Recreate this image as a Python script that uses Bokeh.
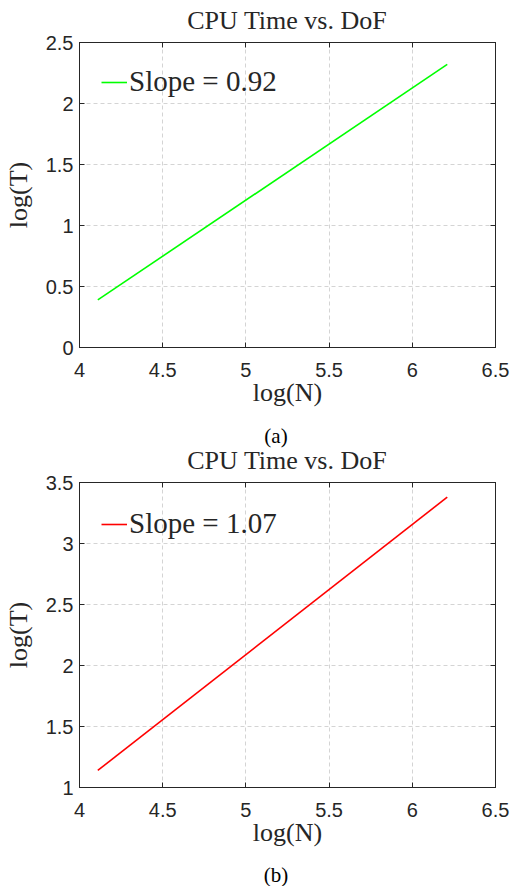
from bokeh.plotting import figure
from bokeh.layouts import column
from bokeh.models import LinearAxis, FixedTicker, Range1d, Legend, LegendItem, Grid, Div
from bokeh.embed import file_html
from bokeh.resources import INLINE

# ---- data ----
x_ticks = [4, 4.5, 5, 5.5, 6, 6.5]

x_a = [4.11, 6.21]
y_a = [0.39, 2.32]
y_ticks_a = [0, 0.5, 1, 1.5, 2, 2.5]

x_b = [4.11, 6.21]
y_b = [1.14, 3.38]
y_ticks_b = [1, 1.5, 2, 2.5, 3, 3.5]

title_text = "CPU Time vs. DoF"
x_label = "log(N)"
y_label = "log(T)"
legend_a = "Slope = 0.92"
legend_b = "Slope = 1.07"
caption_a = "(a)"
caption_b = "(b)"

SERIF = "Liberation Serif"
SANS = "Liberation Sans"
AX = "#262626"


def make(x, y, yticks, color, label, height, border_top, frame_h, leg_y):
    p = figure(width=514, height=height, output_backend="svg", toolbar_location=None,
               x_range=Range1d(x_ticks[0], x_ticks[-1]),
               y_range=Range1d(yticks[0], yticks[-1]),
               min_border_left=79, min_border_right=19,
               min_border_top=border_top,
               min_border_bottom=height - border_top - frame_h,
               x_axis_type=None, y_axis_type=None)
    p.outline_line_color = AX
    p.outline_line_width = 1
    p.background_fill_color = "white"
    p.border_fill_color = "white"

    xt = FixedTicker(ticks=x_ticks)
    yt = FixedTicker(ticks=yticks)

    def style(ax, labels=True):
        ax.major_tick_in = 5
        ax.major_tick_out = 0
        ax.minor_tick_line_color = None
        ax.axis_line_color = AX
        ax.major_tick_line_color = AX
        ax.major_label_text_font = SANS
        if labels:
            ax.major_label_text_color = AX
            ax.major_label_text_font_size = "20px"
        else:
            ax.major_label_text_color = None
            ax.major_label_text_font_size = "1px"
            ax.major_label_standoff = 0
        ax.axis_label_text_font = SERIF
        ax.axis_label_text_font_style = "normal"
        ax.axis_label_text_font_size = "26px"
        ax.axis_label_text_color = AX

    xb = LinearAxis(ticker=xt, axis_label=x_label)
    style(xb)
    xb.major_label_standoff = 15
    xb.axis_label_standoff = -2
    p.add_layout(xb, "below")

    yl = LinearAxis(ticker=yt, axis_label=y_label)
    style(yl)
    yl.major_label_standoff = 6
    yl.axis_label_standoff = 10
    p.add_layout(yl, "left")

    xa = LinearAxis(ticker=xt)
    style(xa, labels=False)
    p.add_layout(xa, "above")

    yr = LinearAxis(ticker=yt)
    style(yr, labels=False)
    p.add_layout(yr, "right")

    gx = Grid(dimension=0, ticker=xt, grid_line_color="#d4d4d4", grid_line_dash="4 3", grid_line_width=1)
    gy = Grid(dimension=1, ticker=yt, grid_line_color="#d4d4d4", grid_line_dash="4 3", grid_line_width=1)
    p.add_layout(gx, "center")
    p.add_layout(gy, "center")

    r = p.line(x, y, line_color=color, line_width=1.6)

    leg = Legend(items=[LegendItem(label=label, renderers=[r])],
                 location=(22, leg_y), margin=0, padding=0,
                 glyph_width=26, glyph_height=20, label_standoff=2,
                 label_text_font=SERIF, label_text_font_size="29px",
                 label_text_color=AX,
                 border_line_color=None, background_fill_alpha=0)
    p.add_layout(leg, "center")
    return p


def text_row(text, height, pad_top, pad_left, size, line_h, color):
    html = ('<div style="width:514px;box-sizing:border-box;padding-left:%dpx;'
            'text-align:center;font-family:\'Liberation Serif\';font-size:%dpx;'
            'line-height:%dpx;color:%s;padding-top:%dpx;white-space:nowrap">%s</div>'
            % (pad_left, size, line_h, color, pad_top, text))
    return Div(text=html, width=514, height=height, margin=0)


t1 = text_row(title_text, 30, 8, 60, 26, 26, AX)
p1 = make(x_a, y_a, y_ticks_a, "#00ff00", legend_a, 384, 12, 305, 249)
c1 = text_row(caption_a, 30, 14, 38, 21, 17, "black")
t2 = text_row(title_text, 26, 4, 60, 26, 26, AX)
p2 = make(x_b, y_b, y_ticks_b, "#ff0000", legend_b, 385, 12, 305, 247)
c2 = text_row(caption_b, 31, 12, 38, 21, 17, "black")

layout = column(t1, p1, c1, t2, p2, c2, spacing=0)
open("out.html", "w").write(file_html(layout, INLINE))
